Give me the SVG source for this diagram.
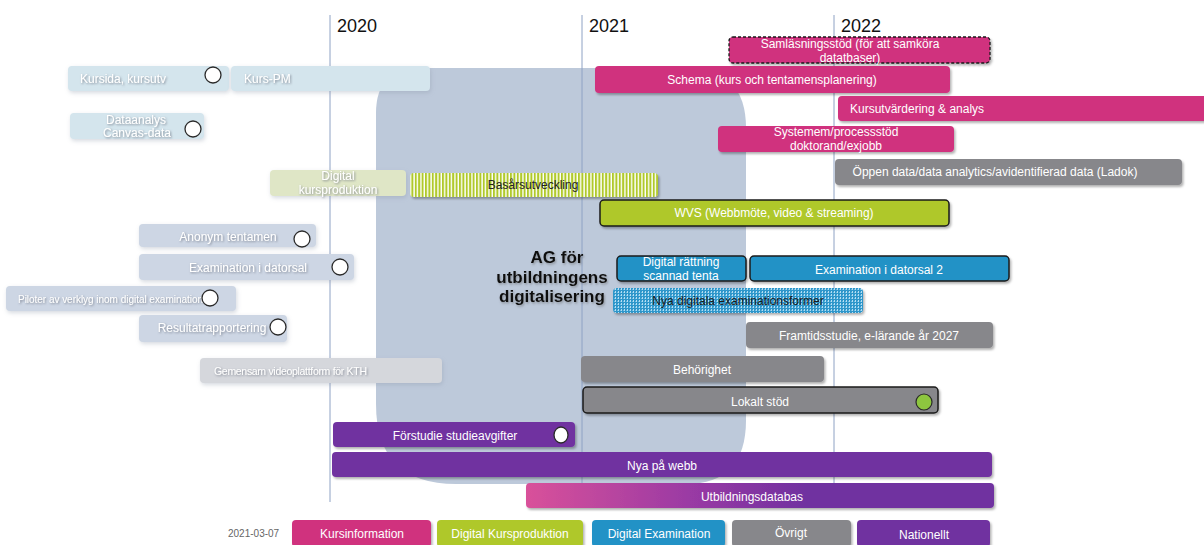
<svg xmlns="http://www.w3.org/2000/svg" width="1204" height="545" viewBox="0 0 1204 545">
<defs>
<filter id="sh" x="-10%" y="-30%" width="120%" height="170%">
<feDropShadow dx="1.5" dy="2" stdDeviation="1.2" flood-color="#000" flood-opacity="0.3"/>
</filter>
<filter id="soft" x="-10%" y="-30%" width="120%" height="170%">
<feDropShadow dx="1" dy="2" stdDeviation="2" flood-color="#8a96a8" flood-opacity="0.35"/>
</filter>
<filter id="tsh" x="-10%" y="-30%" width="120%" height="170%">
<feDropShadow dx="1" dy="1" stdDeviation="0.8" flood-color="#6b7280" flood-opacity="0.8"/>
</filter>
<filter id="agsh" x="-10%" y="-30%" width="120%" height="170%">
<feDropShadow dx="1" dy="1.5" stdDeviation="1" flood-color="#555" flood-opacity="0.5"/>
</filter>
<pattern id="stripes" width="3.4" height="4" patternUnits="userSpaceOnUse">
<rect width="3.4" height="4" fill="#ffffff"/>
<rect width="2" height="4" fill="#b0c92a"/>
</pattern>
<pattern id="dots" width="3" height="3" patternUnits="userSpaceOnUse">
<rect width="3" height="3" fill="#2d96ca"/>
<rect x="0" y="0" width="1" height="2" fill="#b5def2"/>
<rect x="2" y="1" width="1" height="1" fill="#6cbbe2"/>
</pattern>
<linearGradient id="grad" x1="0" y1="0" x2="1" y2="0">
<stop offset="0" stop-color="#d9519a"/>
<stop offset="0.35" stop-color="#9a3aa4"/>
<stop offset="0.6" stop-color="#7030a0"/>
<stop offset="1" stop-color="#7030a0"/>
</linearGradient>
<style>
text{font-family:"Liberation Sans",Arial,sans-serif;}
.t{font-size:12px;fill:#fff;text-anchor:middle;}
.tl{font-size:12px;fill:#fff;}
.fd{font-size:12px;fill:#fff;text-anchor:middle;filter:url(#tsh);}
.yr{font-size:18px;fill:#111;}
.mag{fill:#d0307e;}
.grn{fill:#afc82a;}
.blu{fill:#2192c6;}
.gry{fill:#87878b;}
.pur{fill:#7030a0;}
.bar{filter:url(#sh);}
.fade{filter:url(#soft);}
.ol{stroke:#1a1a1a;stroke-width:1.5;}
.circ{fill:#fff;stroke:#2a2a2a;stroke-width:1.3;}
.grid{stroke:#8ea2c4;stroke-width:1;}
</style>
</defs>
<rect width="1204" height="545" fill="#ffffff"/>

<g id="ag-background">
<path d="M421,68 L686,68 Q746,68 746,128 L746,420 Q746,484 686,484 L456,484 Q376,484 376,404 L376,113 Q376,68 421,68 Z" fill="#bdc9da"/>
</g>

<g id="year-lines">
<line class="grid" x1="330" y1="15" x2="330" y2="502"/>
<line class="grid" x1="582" y1="15" x2="582" y2="502"/>
<line class="grid" x1="834" y1="15" x2="834" y2="502"/>
<text class="yr" x="337" y="32">2020</text>
<text class="yr" x="589" y="32">2021</text>
<text class="yr" x="841" y="32">2022</text>
</g>

<g id="connectors"/>

<g id="n-kursida">
<rect class="fade" x="68" y="66" width="161" height="25" rx="4" fill="#d4e5ed"/>
<text class="fd" x="80" y="83" style="text-anchor:start">Kursida,  kursutv</text>
<circle class="circ" cx="213" cy="75" r="8"/>
</g>
<g id="n-kurspm">
<rect class="fade" x="231" y="66" width="199" height="25" rx="4" fill="#d4e5ed"/>
<text class="fd" x="244" y="83" style="text-anchor:start">Kurs-PM</text>
</g>
<g id="n-dataanalys">
<rect class="fade" x="70" y="113" width="134" height="26" rx="4" fill="#d4e5ed"/>
<text class="fd" x="136" y="124">Dataanalys</text>
<text class="fd" x="137" y="137">Canvas-data</text>
<circle class="circ" cx="193" cy="129" r="8"/>
</g>
<g id="n-digital-kursproduktion">
<rect class="fade" x="270" y="170" width="136" height="26" rx="4" fill="#dfe6c6"/>
<text class="fd" x="338" y="180">Digital</text>
<text class="fd" x="338" y="194">kursproduktion</text>
</g>
<g id="n-basar">
<rect class="bar" x="410" y="173" width="248" height="24" rx="4" fill="url(#stripes)"/>
<text class="t" x="533" y="189" style="fill:#222">Basårsutveckling</text>
</g>
<g id="n-anonym">
<rect class="fade" x="139" y="224" width="177" height="23" rx="4" fill="#cdd6e4"/>
<text class="fd" x="228" y="241">Anonym  tentamen</text>
<circle class="circ" cx="302" cy="239" r="8"/>
</g>
<g id="n-exam-datorsal">
<rect class="fade" x="139" y="254" width="215" height="26" rx="4" fill="#cdd6e4"/>
<text class="fd" x="248" y="272">Examination   i datorsal</text>
<circle class="circ" cx="340" cy="267" r="8"/>
</g>
<g id="n-piloter">
<rect class="fade" x="6" y="286" width="230" height="25" rx="4" fill="#cdd6e4"/>
<text class="fd" x="18" y="303" style="text-anchor:start;font-size:10px" textLength="185">Piloter av verklyg inom digital examination</text>
<circle class="circ" cx="210" cy="298" r="8"/>
</g>
<g id="n-resultat">
<rect class="fade" x="139" y="315" width="148" height="27" rx="4" fill="#cdd6e4"/>
<text class="fd" x="212" y="332">Resultatrapportering</text>
<circle class="circ" cx="278" cy="327" r="8"/>
</g>
<g id="n-videoplattform">
<rect class="fade" x="200" y="358" width="242" height="25" rx="4" fill="#d5d7dc"/>
<text class="fd" x="214" y="375" style="text-anchor:start;font-size:10.5px" textLength="153">Gemensam videoplattform för KTH</text>
</g>

<g id="n-samlasning">
<rect class="bar mag" x="729" y="37" width="261" height="26" rx="4" stroke="#1a1a1a" stroke-width="1.3" stroke-dasharray="3,2"/>
<text class="t" x="850" y="48">Samläsningsstöd  (för att samköra</text>
<text class="t" x="850" y="62">datatbaser)</text>
</g>
<g id="n-schema">
<rect class="bar mag" x="595" y="66" width="355" height="27" rx="4"/>
<text class="t" x="772" y="84">Schema  (kurs och tentamensplanering)</text>
</g>
<g id="n-kursutvardering">
<rect class="bar mag" x="838" y="96" width="372" height="25" rx="4"/>
<text class="tl" x="850" y="113">Kursutvärdering  &amp; analys</text>
</g>
<g id="n-systemstod">
<rect class="bar mag" x="718" y="126" width="236" height="26" rx="4"/>
<text class="t" x="836" y="136">Systemem/processstöd</text>
<text class="t" x="836" y="150">doktorand/exjobb</text>
</g>
<g id="n-oppen-data">
<rect class="bar gry" x="835" y="159" width="347" height="26" rx="4"/>
<text class="t" x="995" y="176">Öppen  data/data  analytics/avidentifierad  data  (Ladok)</text>
</g>
<g id="n-wvs">
<rect class="bar grn ol" x="600" y="200" width="349" height="26" rx="4"/>
<text class="t" x="774" y="217">WVS (Webbmöte, video &amp; streaming)</text>
</g>

<g id="n-ag-label" filter="url(#agsh)">
<text x="557" y="263" style="font-size:17px;font-weight:bold;fill:#111;text-anchor:middle">AG för</text>
<text x="552" y="283" style="font-size:17px;font-weight:bold;fill:#111;text-anchor:middle">utbildningens</text>
<text x="552" y="302" style="font-size:17px;font-weight:bold;fill:#111;text-anchor:middle">digitalisering</text>
</g>

<g id="n-digital-rattning">
<rect class="bar blu ol" x="617" y="256" width="129" height="25" rx="4"/>
<text class="t" x="681" y="266">Digital  rättning</text>
<text class="t" x="681" y="280">scannad  tenta</text>
</g>
<g id="n-exam-datorsal2">
<rect class="bar blu ol" x="750" y="256" width="259" height="25" rx="4"/>
<text class="t" x="879" y="274">Examination   i datorsal  2</text>
</g>
<g id="n-nya-digitala">
<rect class="bar" x="613" y="288" width="250" height="25" rx="4" fill="url(#dots)"/>
<text class="t" x="738" y="305" style="fill:#1a1a1a">Nya digitala  examinationsformer</text>
</g>
<g id="n-framtidsstudie">
<rect class="bar gry" x="746" y="322" width="247" height="26" rx="4"/>
<text class="t" x="869" y="340">Framtidsstudie,  e-lärande  år 2027</text>
</g>
<g id="n-behorighet">
<rect class="bar gry" x="581" y="356" width="243" height="26" rx="4"/>
<text class="t" x="702" y="374">Behörighet</text>
</g>
<g id="n-lokalt-stod">
<rect class="bar gry ol" x="583" y="387" width="355" height="26" rx="4"/>
<text class="t" x="760" y="406">Lokalt  stöd</text>
<circle cx="924" cy="402" r="8" fill="#8dc63f" stroke="#2a2a2a" stroke-width="1.2"/>
</g>
<g id="n-forstudie">
<rect class="bar pur" x="333" y="422" width="242" height="25" rx="4"/>
<text class="t" x="455" y="440">Förstudie  studieavgifter</text>
<ellipse class="circ" cx="561" cy="435" rx="7" ry="8"/>
</g>
<g id="n-nya-pa-webb">
<rect class="bar pur" x="332" y="452" width="660" height="25" rx="4"/>
<text class="t" x="662" y="470">Nya på webb</text>
</g>
<g id="n-utbildningsdatabas">
<rect class="bar" x="526" y="483" width="468" height="25" rx="4" fill="url(#grad)"/>
<text class="t" x="752" y="501">Utbildningsdatabas</text>
</g>

<g id="legend">
<text x="228" y="537" style="font-size:10px;fill:#666">2021-03-07</text>
<g id="lg-kursinformation">
<rect class="bar mag" x="292" y="520" width="139" height="27" rx="4"/>
<text class="t" x="362" y="538">Kursinformation</text>
</g>
<g id="lg-digital-kursproduktion">
<rect class="bar grn" x="437" y="520" width="146" height="27" rx="4"/>
<text class="t" x="510" y="538">Digital  Kursproduktion</text>
</g>
<g id="lg-digital-examination">
<rect class="bar blu" x="592" y="520" width="133" height="27" rx="4"/>
<text class="t" x="659" y="538">Digital  Examination</text>
</g>
<g id="lg-ovrigt">
<rect class="bar gry" x="732" y="520" width="119" height="27" rx="4"/>
<text class="t" x="791" y="537">Övrigt</text>
</g>
<g id="lg-nationellt">
<rect class="bar pur" x="857" y="520" width="133" height="27" rx="4"/>
<text class="t" x="924" y="539">Nationellt</text>
</g>
</g>
</svg>
